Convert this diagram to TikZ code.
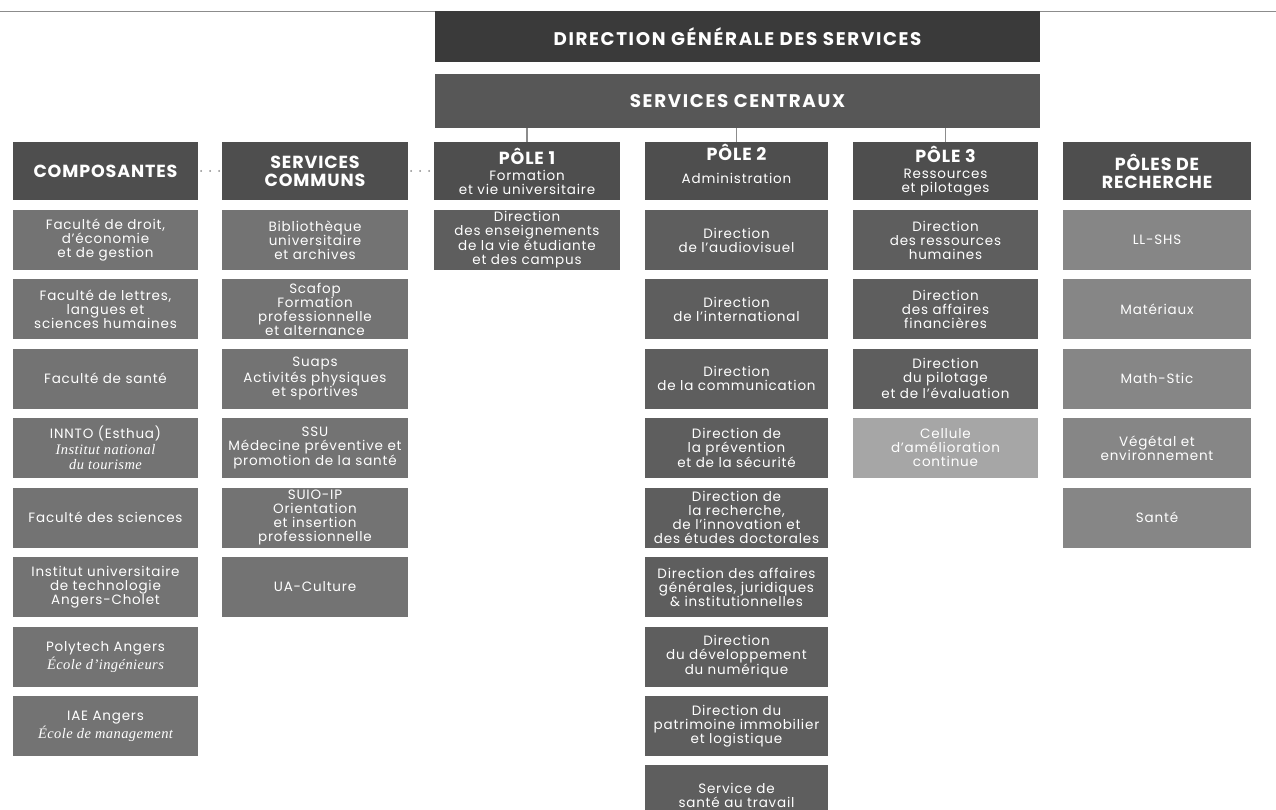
\documentclass[tikz,border=0pt]{standalone}
\usepackage{fontspec}
\setmainfont{Poppins}
\newfontfamily\childfont{Poppins}[LetterSpace=6]
\newfontfamily\headfont{Poppins}[LetterSpace=5]
\newfontfamily\topfont{Poppins}[LetterSpace=9]
\newfontfamily\serifit{Liberation Serif}[LetterSpace=3]
\definecolor{dgsgray}{HTML}{3A3A3A}
\definecolor{scgray}{HTML}{575757}
\definecolor{headgray}{HTML}{4E4E4E}
\definecolor{childgray}{HTML}{737373}
\definecolor{polegray}{HTML}{5E5E5E}
\definecolor{resgray}{HTML}{868686}
\definecolor{cellgray}{HTML}{A6A6A6}
\definecolor{linegray}{HTML}{8C8C8C}
\tikzset{
  box/.style={draw=none, text=white, align=center, inner sep=0pt, minimum height=60pt,
    font=\childfont\fontsize{13.5}{14}\selectfont},
  topbox/.style={box, minimum width=605pt, minimum height=51pt, font=\topfont\fontsize{18.3}{20}\selectfont\bfseries},
  headbox/.style={box, fill=headgray, minimum height=58pt},
  bighead/.style={headbox, font=\headfont\fontsize{17.5}{18}\selectfont\bfseries},
  colA/.style={minimum width=185pt},
  colB/.style={minimum width=186pt},
  colC/.style={minimum width=186pt},
  colD/.style={minimum width=183pt},
  colE/.style={minimum width=185pt},
  colF/.style={minimum width=188pt},
  compbox/.style={box, fill=childgray, colA},
  scbox/.style={box, fill=childgray, colB},
  polebox/.style={box, fill=polegray},
  resbox/.style={box, fill=resgray, colF},
  cellbox/.style={box, fill=cellgray, colE},
  solidlink/.style={draw=linegray, line width=1.6pt},
  dotlink/.style={draw=linegray, line width=2pt, line cap=round, dash pattern=on 0pt off 9pt, dash phase=-3pt},
}
\newcommand{\hd}[1]{{\headfont\fontsize{17.5}{18}\selectfont\bfseries #1}}
\newcommand{\itx}[1]{{\serifit\itshape\fontsize{14.5}{14}\selectfont #1}}
\begin{document}
\begin{tikzpicture}[x=1pt,y=-1pt]
\useasboundingbox (0,0) rectangle (1276,810);
\clip (0,0) rectangle (1276,810);
\fill[white] (0,0) rectangle (1276,810);
\coordinate (tlL) at (0,11.5);
\coordinate (tlR) at (1276,11.5);
\draw[draw=linegray, line width=1.2pt] (tlL) -- (tlR);

% top boxes
\node[topbox, fill=dgsgray] (dgs) at (737.5,37) {DIRECTION GÉNÉRALE DES SERVICES};
\node[topbox, fill=scgray, minimum height=54pt] (sc) at (737.5,101) {SERVICES CENTRAUX};

% headers
\node[bighead, colA] (hcomp) at (105.5,171) {COMPOSANTES};
\node[bighead, colB] (hcom) at (315,171) {SERVICES\\COMMUNS};
\node[headbox, colC] (hp1) at (527,171) {\hd{PÔLE 1}\\[2pt]Formation\\et vie universitaire};
\node[headbox, colD] (hp2) at (736.5,171) {\hd{PÔLE 2}\\[9pt]Administration\\\mbox{}};
\node[headbox, colE] (hp3) at (945.5,171) {\hd{PÔLE 3}\\[2pt]Ressources\\et pilotages};
\node[bighead, colF] (hres) at (1157,171) {PÔLES DE\\RECHERCHE};

% connectors
\draw[solidlink] (sc.south -| hp1.north) -- (hp1.north);
\draw[solidlink] (sc.south -| hp2.north) -- (hp2.north);
\draw[solidlink] (sc.south -| hp3.north) -- (hp3.north);
\draw[dotlink] (hcomp.east) -- (hcom.west);
\draw[dotlink] (hcom.east) -- (hp1.west);

% Composantes
\node[compbox] (c1) at (105.5,240) {Faculté de droit,\\d’économie\\et de gestion};
\node[compbox] (c2) at (105.5,309) {Faculté de lettres,\\langues et\\sciences humaines};
\node[compbox] (c3) at (105.5,378.5) {Faculté de santé};
\node[compbox] (c4) at (105.5,448) {INNTO (Esthua)\\[1.5pt]\itx{Institut national}\\[1pt]\itx{du tourisme}};
\node[compbox] (c5) at (105.5,517.5) {Faculté des sciences};
\node[compbox] (c6) at (105.5,587) {Institut universitaire\\de technologie\\Angers-Cholet};
\node[compbox] (c7) at (105.5,657) {Polytech Angers\\[1pt]\itx{École d’ingénieurs}};
\node[compbox] (c8) at (105.5,726) {IAE Angers\\[1pt]\itx{École de management}};

% Services communs
\node[scbox] (s1) at (315,240) {Bibliothèque\\universitaire\\et archives};
\node[scbox] (s2) at (315,309) {Scafop\\Formation\\professionnelle\\et alternance};
\node[scbox] (s3) at (315,378.5) {Suaps\\Activités physiques\\et sportives};
\node[scbox] (s4) at (315,448) {SSU\\Médecine préventive et\\promotion de la santé};
\node[scbox] (s5) at (315,517.5) {SUIO-IP\\Orientation\\et insertion\\professionnelle};
\node[scbox] (s6) at (315,587) {UA-Culture};

% Pôle 1
\node[polebox, colC] (p11) at (527,240) {Direction\\des enseignements\\de la vie étudiante\\et des campus};

% Pôle 2
\node[polebox, colD] (p21) at (736.5,240) {Direction\\de l’audiovisuel};
\node[polebox, colD] (p22) at (736.5,309) {Direction\\de l’international};
\node[polebox, colD] (p23) at (736.5,378.5) {Direction\\de la communication};
\node[polebox, colD] (p24) at (736.5,448) {Direction de\\la prévention\\et de la sécurité};
\node[polebox, colD] (p25) at (736.5,517.5) {Direction de\\la recherche,\\de l’innovation et\\des études doctorales};
\node[polebox, colD] (p26) at (736.5,587) {Direction des affaires\\générales, juridiques\\\& institutionnelles};
\node[polebox, colD] (p27) at (736.5,657) {Direction\\du développement\\du numérique};
\node[polebox, colD] (p28) at (736.5,726) {Direction du\\patrimoine immobilier\\et logistique};
\node[polebox, colD] (p29) at (736.5,795) {Service de\\santé au travail};

% Pôle 3
\node[polebox, colE] (p31) at (945.5,240) {Direction\\des ressources\\humaines};
\node[polebox, colE] (p32) at (945.5,309) {Direction\\des affaires\\financières};
\node[polebox, colE] (p33) at (945.5,378.5) {Direction\\du pilotage\\et de l’évaluation};
\node[cellbox] (p34) at (945.5,448) {Cellule\\d’amélioration\\continue};

% Pôles de recherche
\node[resbox] (r1) at (1157,240) {LL-SHS};
\node[resbox] (r2) at (1157,309) {Matériaux};
\node[resbox] (r3) at (1157,378.5) {Math-Stic};
\node[resbox] (r4) at (1157,448) {Végétal et\\environnement};
\node[resbox] (r5) at (1157,517.5) {Santé};
\end{tikzpicture}
\end{document}
